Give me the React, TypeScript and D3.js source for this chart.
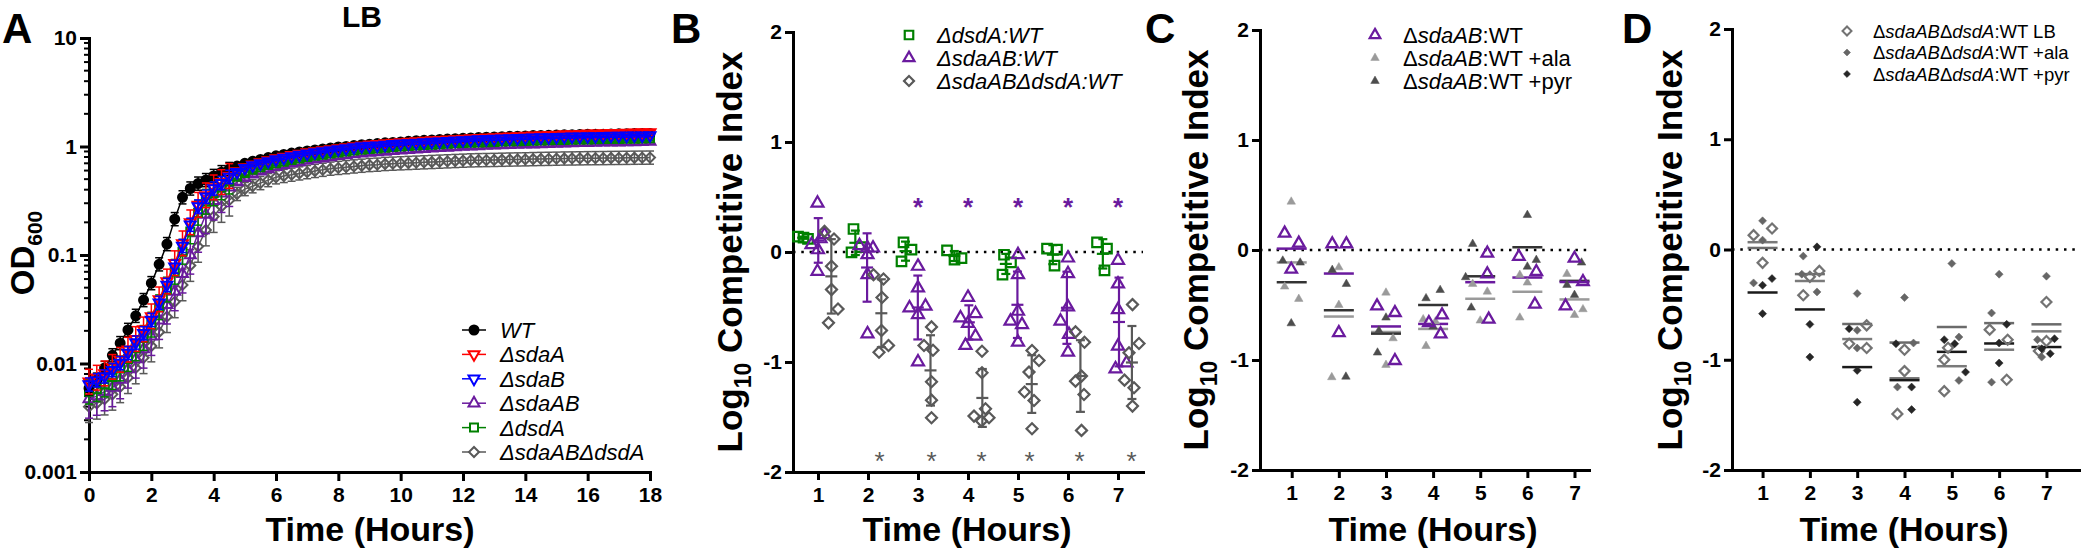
import React, { useRef, useEffect } from 'react';
import * as d3 from 'd3';

const FONT = '"Liberation Sans", Arial, Helvetica, sans-serif';
const PURPLE = '#6a1a9e';

// ---------- Panel A: growth in LB, OD600 read every 15 min ----------
const timeA = d3.range(0, 18.001, 0.25);
const yTicksA = [0.001, 0.01, 0.1, 1, 10];
const yTickLabelsA = ['0.001', '0.01', '0.1', '1', '10'];
const xTicksA = [0, 2, 4, 6, 8, 10, 12, 14, 16, 18];

const odWT = [0.0059, 0.0071, 0.0091, 0.0119, 0.0154, 0.0204, 0.0275, 0.0384, 0.055, 0.082, 0.126, 0.214, 0.34,
  0.41, 0.455, 0.49, 0.535, 0.58, 0.62, 0.66, 0.7, 0.73, 0.76, 0.79, 0.82,
  0.845, 0.87, 0.89, 0.91, 0.93, 0.95, 0.97, 0.99, 1.0, 1.02, 1.04, 1.05,
  1.065, 1.08, 1.09, 1.1, 1.115, 1.13, 1.14, 1.15, 1.16, 1.17, 1.18, 1.19,
  1.2, 1.21, 1.22, 1.225, 1.23, 1.24, 1.245, 1.25, 1.26, 1.265, 1.27, 1.275,
  1.28, 1.285, 1.29, 1.295, 1.3, 1.3, 1.305, 1.31, 1.31, 1.315, 1.32, 1.32];
const odSdaA = [0.0068, 0.0074, 0.0081, 0.0093, 0.0108, 0.0134, 0.0168, 0.0206, 0.0272, 0.039, 0.057, 0.084, 0.128,
  0.2, 0.29, 0.355, 0.42, 0.47, 0.535, 0.59, 0.64, 0.68, 0.715, 0.745, 0.775,
  0.8, 0.83, 0.855, 0.88, 0.9, 0.92, 0.94, 0.96, 0.98, 1.0, 1.02, 1.04,
  1.05, 1.065, 1.08, 1.09, 1.1, 1.115, 1.125, 1.135, 1.145, 1.155, 1.165, 1.175,
  1.185, 1.195, 1.205, 1.215, 1.225, 1.235, 1.24, 1.25, 1.26, 1.265, 1.27, 1.28,
  1.29, 1.295, 1.3, 1.31, 1.315, 1.32, 1.325, 1.33, 1.335, 1.34, 1.345, 1.35];
const odSdaB = [0.0064, 0.007, 0.0076, 0.0087, 0.0101, 0.0125, 0.0156, 0.019, 0.0252, 0.0363, 0.053, 0.078, 0.121,
  0.19, 0.28, 0.345, 0.41, 0.46, 0.525, 0.58, 0.63, 0.67, 0.7, 0.73, 0.76,
  0.785, 0.81, 0.835, 0.86, 0.88, 0.9, 0.92, 0.94, 0.96, 0.98, 1.0, 1.01,
  1.02, 1.035, 1.05, 1.06, 1.07, 1.08, 1.09, 1.1, 1.11, 1.12, 1.13, 1.14,
  1.15, 1.16, 1.17, 1.175, 1.18, 1.19, 1.195, 1.2, 1.205, 1.21, 1.215, 1.22,
  1.225, 1.23, 1.235, 1.24, 1.24, 1.245, 1.25, 1.25, 1.255, 1.26, 1.26, 1.265];
const odSdaAB = [0.0047, 0.005, 0.0055, 0.006, 0.0071, 0.0089, 0.011, 0.0136, 0.0178, 0.025, 0.0347, 0.046, 0.067,
  0.1, 0.159, 0.236, 0.315, 0.37, 0.42, 0.47, 0.515, 0.555, 0.59, 0.62, 0.65,
  0.675, 0.7, 0.72, 0.74, 0.76, 0.78, 0.8, 0.82, 0.835, 0.85, 0.865, 0.88,
  0.89, 0.9, 0.91, 0.92, 0.93, 0.94, 0.95, 0.96, 0.97, 0.98, 0.99, 1.0,
  1.005, 1.01, 1.02, 1.025, 1.03, 1.035, 1.04, 1.045, 1.05, 1.055, 1.06, 1.065,
  1.07, 1.075, 1.08, 1.08, 1.085, 1.09, 1.09, 1.095, 1.1, 1.1, 1.105, 1.11];
const odDsdA = [0.0055, 0.0058, 0.0064, 0.0075, 0.009, 0.011, 0.0138, 0.0172, 0.0228, 0.033, 0.048, 0.07, 0.107,
  0.165, 0.245, 0.31, 0.37, 0.42, 0.475, 0.525, 0.57, 0.61, 0.645, 0.675, 0.7,
  0.725, 0.75, 0.775, 0.8, 0.82, 0.84, 0.86, 0.88, 0.9, 0.92, 0.935, 0.95,
  0.96, 0.975, 0.99, 1.0, 1.01, 1.02, 1.03, 1.04, 1.05, 1.06, 1.07, 1.075,
  1.08, 1.09, 1.095, 1.1, 1.11, 1.115, 1.12, 1.125, 1.13, 1.135, 1.14, 1.145,
  1.15, 1.155, 1.16, 1.16, 1.165, 1.17, 1.17, 1.175, 1.18, 1.18, 1.185, 1.19];
const odSdaABdsdA = [0.004, 0.0043, 0.0047, 0.0052, 0.0061, 0.0074, 0.0091, 0.0113, 0.0145, 0.0195, 0.027, 0.037, 0.053,
  0.08, 0.12, 0.17, 0.226, 0.28, 0.32, 0.365, 0.405, 0.43, 0.46, 0.49, 0.52,
  0.535, 0.55, 0.565, 0.58, 0.595, 0.61, 0.625, 0.635, 0.645, 0.655, 0.665, 0.675,
  0.68, 0.69, 0.695, 0.7, 0.705, 0.71, 0.715, 0.72, 0.725, 0.73, 0.735, 0.74,
  0.745, 0.748, 0.75, 0.752, 0.755, 0.758, 0.76, 0.762, 0.765, 0.768, 0.77, 0.772,
  0.775, 0.776, 0.778, 0.78, 0.781, 0.782, 0.784, 0.785, 0.786, 0.788, 0.789, 0.79];
// error bars as multiplicative SD, during growth (<= 4.5 h) and afterwards
const sdEarlyA = [1.15, 1.3, 1.15, 1.5, 1.3, 1.4];
const sdLateA = [1.03, 1.04, 1.03, 1.05, 1.05, 1.15];
const namesA = ['WT', 'ΔsdaA', 'ΔsdaB', 'ΔsdaAB', 'ΔdsdA', 'ΔsdaABΔdsdA'];

// ---------- Panels B-D: competitive index, [time (h, jittered), log10 CI] ----------
const hours = [1, 2, 3, 4, 5, 6, 7];
const ciTicks = [-2, -1, 0, 1, 2];

const bDsdA = [
  [[0.6, 0.14], [0.71, 0.13], [0.8, 0.12]],
  [[1.71, 0.209], [1.67, -0.003], [1.86, 0.045]],
  [[2.71, 0.087], [2.87, 0.021], [2.67, -0.085]],
  [[3.58, 0.015], [3.73, -0.07], [3.87, -0.055]],
  [[4.72, -0.025], [4.86, -0.094], [4.69, -0.206]],
  [[5.58, 0.03], [5.78, 0.021], [5.73, -0.124]],
  [[6.58, 0.087], [6.78, 0.03], [6.73, -0.167]],
];
const bSdaAB = [
  [[0.99, 0.444], [0.87, 0.066], [1.13, 0.157], [1.0, 0.02], [0.99, -0.176], [1.05, 0.12]],
  [[1.83, 0.057], [1.99, 0.036], [2.1, 0.036], [1.99, -0.025], [1.99, -0.206], [1.99, -0.744]],
  [[3.0, -0.13], [3.0, -0.327], [2.83, -0.508], [3.15, -0.493], [3.0, -0.569], [3.0, -1.0]],
  [[4.0, -0.412], [3.85, -0.6], [4.15, -0.56], [4.0, -0.65], [4.15, -0.765], [3.95, -0.85]],
  [[5.0, -0.025], [5.0, -0.206], [5.0, -0.539], [4.85, -0.629], [5.08, -0.66], [5.0, -0.82]],
  [[6.0, -0.055], [6.0, -0.197], [6.0, -0.5], [5.85, -0.629], [6.02, -0.75], [6.0, -0.911]],
  [[7.0, -0.076], [7.0, -0.291], [7.0, -0.524], [7.0, -0.856], [6.95, -1.062], [7.17, -1.008]],
];
const bSdaABdsdA = [
  [[1.13, 0.187], [1.32, 0.118], [1.27, -0.13], [1.27, -0.342], [1.4, -0.518], [1.21, -0.644]],
  [[2.11, -0.207], [2.31, -0.245], [2.28, -0.414], [2.27, -0.714], [2.22, -0.911], [2.41, -0.85]],
  [[3.27, -0.681], [3.12, -0.85], [3.3, -0.893], [3.27, -1.18], [3.27, -1.347], [3.27, -1.507]],
  [[4.28, -0.902], [4.28, -1.098], [4.12, -1.492], [4.35, -1.425], [4.42, -1.507], [4.27, -1.537]],
  [[5.28, -0.896], [5.42, -0.986], [5.22, -1.092], [5.13, -1.273], [5.32, -1.35], [5.28, -1.607]],
  [[6.15, -0.726], [6.33, -0.82], [6.15, -1.174], [6.27, -1.128], [6.32, -1.295], [6.27, -1.622]],
  [[7.29, -0.478], [7.42, -0.832], [7.22, -0.917], [7.13, -1.165], [7.32, -1.234], [7.29, -1.401]],
];
// significance asterisks: [time, log10 CI]
const bStarsSdaAB = [[3, 0.47], [4, 0.47], [5, 0.47], [6, 0.47], [7, 0.47]];
const bStarsDouble = [[2.23, -1.84], [3.27, -1.84], [4.27, -1.84], [5.23, -1.84], [6.23, -1.84], [7.27, -1.84]];

const cLB = [
  [[0.85, 0.152], [1.15, 0.061], [0.99, -0.176]],
  [[1.86, 0.055], [2.16, 0.055], [2.0, -0.752]],
  [[2.81, -0.509], [3.19, -0.57], [3.19, -1.006]],
  [[3.91, -0.661], [4.19, -0.591], [4.16, -0.764]],
  [[5.15, -0.03], [5.15, -0.218], [5.18, -0.63]],
  [[5.82, -0.06], [6.19, -0.197], [6.16, -0.494]],
  [[7.0, -0.076], [7.18, -0.288], [6.81, -0.509]],
];
const cAla = [
  [[0.99, 0.439], [0.85, -0.333], [1.15, -0.445]],
  [[2.0, -0.158], [2.0, -0.5], [1.85, -1.157]],
  [[3.0, -0.388], [3.15, -0.803], [3.0, -1.045]],
  [[3.79, -0.63], [4.05, -0.65], [3.85, -0.873]],
  [[4.84, -0.309], [5.15, -0.379], [5.0, -0.642]],
  [[5.84, -0.227], [6.0, -0.297], [5.84, -0.615]],
  [[6.84, -0.218], [7.18, -0.539], [7.0, -0.591]],
];
const cPyr = [
  [[0.81, -0.097], [1.18, -0.115], [0.99, -0.667]],
  [[1.86, -0.182], [2.16, -0.309], [2.15, -1.152]],
  [[3.0, -0.615], [2.85, -0.733], [2.82, -0.933]],
  [[3.85, -0.439], [4.15, -0.364], [4.0, -0.697]],
  [[4.84, 0.055], [4.69, -0.248], [4.81, -0.524]],
  [[6.0, 0.318], [6.19, -0.091], [6.0, -0.152]],
  [[7.15, -0.115], [6.84, -0.318], [7.0, -0.409]],
];

const dLB = [
  [[0.81, 0.13], [1.2, 0.19], [1.0, -0.121]],
  [[2.2, -0.194], [2.0, -0.248], [1.86, -0.415]],
  [[3.2, -0.688], [2.83, -0.855], [3.2, -0.894]],
  [[4.0, -0.909], [4.0, -1.103], [3.85, -1.491]],
  [[4.84, -1.0], [4.92, -0.891], [4.84, -1.285]],
  [[5.8, -0.727], [6.18, -0.818], [6.16, -1.182]],
  [[7.0, -0.476], [7.0, -0.83], [6.84, -0.921]],
];
const dAla = [
  [[1.0, 0.26], [1.0, 0.085], [0.81, -0.303]],
  [[1.86, -0.06], [1.83, -0.224], [2.15, -0.385]],
  [[3.0, -0.4], [3.0, -0.733], [3.0, -0.894]],
  [[4.0, -0.436], [3.85, -1.248], [4.19, -0.848]],
  [[5.0, -0.127], [5.15, -0.794], [5.15, -1.188]],
  [[6.0, -0.224], [5.84, -0.576], [5.84, -1.203]],
  [[7.0, -0.242], [6.81, -0.818], [6.9, -0.976]],
];
const dPyr = [
  [[1.2, -0.264], [1.0, -0.324], [1.0, -0.582]],
  [[2.15, 0.024], [2.0, -0.679], [2.0, -0.976]],
  [[2.83, -0.718], [3.0, -1.097], [3.0, -1.385]],
  [[3.82, -0.855], [4.15, -1.248], [4.15, -1.452]],
  [[4.84, -0.818], [5.06, -0.855], [5.29, -1.112]],
  [[6.16, -0.679], [6.0, -0.848], [6.0, -1.03]],
  [[7.17, -0.809], [6.9, -0.9], [7.08, -0.945]],
];

const legendB = ['ΔdsdA:WT', 'ΔsdaAB:WT', 'ΔsdaABΔdsdA:WT'];
// [text, italic]
const legendC = [
  [['Δ', false], ['sdaAB', true], [':WT', false]],
  [['Δ', false], ['sdaAB', true], [':WT +ala', false]],
  [['Δ', false], ['sdaAB', true], [':WT +pyr', false]],
];
const legendD = [
  [['Δ', false], ['sdaAB', true], ['Δ', false], ['dsdA', true], [':WT LB', false]],
  [['Δ', false], ['sdaAB', true], ['Δ', false], ['dsdA', true], [':WT +ala', false]],
  [['Δ', false], ['sdaAB', true], ['Δ', false], ['dsdA', true], [':WT +pyr', false]],
];

const symbolPath = (kind: string, size: number) => {
  if (kind === 'circle') return d3.symbol(d3.symbolCircle, (Math.PI * size * size) / 4)();
  if (kind === 'square') return d3.symbol(d3.symbolSquare, size * size)();
  if (kind === 'diamond') return d3.symbol(d3.symbolSquare, (size * size) / 2)();
  return d3.symbol(d3.symbolTriangle, (size * size * Math.sqrt(3)) / 4)();
};

const marker = (g: any, kind: string, x: number, y: number, size: number, stroke: string, fill: string, sw: number) => {
  const rot = kind === 'diamond' ? 45 : kind === 'triDown' ? 180 : 0;
  g.append('path')
    .attr('d', symbolPath(kind, size))
    .attr('transform', `translate(${x},${y}) rotate(${rot})`)
    .attr('fill', fill)
    .attr('stroke', stroke)
    .attr('stroke-width', sw);
};

const styleAxis = (ax: any) => {
  ax.select('.domain').attr('stroke-width', 3).attr('stroke-linecap', 'square').attr('stroke', '#000');
  ax.selectAll('.tick line').attr('stroke-width', 3).attr('stroke', '#000');
  ax.selectAll('text')
    .attr('font-family', FONT)
    .attr('font-size', 21)
    .attr('font-weight', 'bold')
    .attr('fill', '#000');
};

const App = () => {
  const svgRef = useRef<SVGSVGElement>(null);

  useEffect(() => {
    const svg = d3.select(svgRef.current);
    svg.selectAll('*').remove();

    const letter = (x: number, t: string) =>
      svg.append('text').attr('x', x).attr('y', 43).attr('font-family', FONT)
        .attr('font-size', 42).attr('font-weight', 'bold').text(t);

    const xLabel = (cx: number) =>
      svg.append('text').attr('x', cx).attr('y', 541).attr('text-anchor', 'middle')
        .attr('font-family', FONT).attr('font-size', 34).attr('font-weight', 'bold')
        .text('Time (Hours)');

    const ciLabel = (bx: number, cy: number) => {
      const t = svg.append('text')
        .attr('transform', `translate(${bx},${cy}) rotate(-90)`)
        .attr('text-anchor', 'middle')
        .attr('font-family', FONT).attr('font-size', 35).attr('font-weight', 'bold');
      t.append('tspan').text('Log');
      t.append('tspan').attr('font-size', 23).attr('dy', 9).text('10');
      t.append('tspan').attr('dy', -9).text(' Competitive Index');
    };

    // ================= Panel A =================
    const xA = d3.scaleLinear().domain([0, 18]).range([89, 650]);
    const yA = d3.scaleLog().domain([0.001, 10]).range([472, 38]);
    const gA = svg.append('g');

    const minorA: number[] = [];
    yTicksA.slice(0, -1).forEach(d => { for (let k = 2; k <= 9; k++) minorA.push(d * k); });
    gA.selectAll('.minor').data(minorA).enter().append('line')
      .attr('x1', xA(0) - 5).attr('x2', xA(0))
      .attr('y1', d => yA(d)).attr('y2', d => yA(d))
      .attr('stroke', '#000').attr('stroke-width', 2);

    const yAxA = gA.append('g').attr('transform', `translate(${xA(0)},0)`)
      .call(d3.axisLeft(yA).tickValues(yTicksA).tickFormat((d, i) => yTickLabelsA[i]).tickSize(9).tickSizeOuter(0).tickPadding(3));
    styleAxis(yAxA);
    const xAxA = gA.append('g').attr('transform', `translate(0,${yA(0.001)})`)
      .call(d3.axisBottom(xA).tickValues(xTicksA).tickFormat(d => String(d)).tickSize(9).tickSizeOuter(0).tickPadding(6));
    styleAxis(xAxA);

    const seriesA = [
      { values: odWT, color: '#000000', shape: 'circle', fill: '#000000', size: 9 },
      { values: odSdaA, color: '#ff0000', shape: 'triDown', fill: 'none', size: 11 },
      { values: odSdaB, color: '#0000ff', shape: 'triDown', fill: 'none', size: 11 },
      { values: odSdaAB, color: PURPLE, shape: 'tri', fill: 'none', size: 11 },
      { values: odDsdA, color: '#008000', shape: 'square', fill: 'none', size: 8 },
      { values: odSdaABdsdA, color: '#595959', shape: 'diamond', fill: 'none', size: 10 },
    ];
    const drawOrder = [5, 3, 4, 0, 1, 2];
    drawOrder.forEach(si => {
      const s = seriesA[si];
      const gs = gA.append('g');
      timeA.forEach((t, i) => {
        const v = s.values[i];
        const f = t <= 4.5 ? sdEarlyA[si] : sdLateA[si];
        const x = xA(t);
        const lo = Math.max(yA(v / f), 0);
        gs.append('line').attr('x1', x).attr('x2', x).attr('y1', yA(v * f)).attr('y2', Math.min(lo, 472))
          .attr('stroke', s.color).attr('stroke-width', 1.5);
        [v * f, v / f].forEach(e => {
          if (e < 0.001) return;
          gs.append('line').attr('x1', x - 4).attr('x2', x + 4).attr('y1', yA(e)).attr('y2', yA(e))
            .attr('stroke', s.color).attr('stroke-width', 1.5);
        });
      });
      gs.append('path')
        .datum(s.values)
        .attr('d', d3.line<number>().x((d, i) => xA(timeA[i])).y(d => yA(d)))
        .attr('fill', 'none').attr('stroke', s.color).attr('stroke-width', 1.5);
      timeA.forEach((t, i) => marker(gs, s.shape, xA(t), yA(s.values[i]), s.size, s.color,
        s.fill === 'none' ? 'none' : s.fill, 2));
    });

    // legend A
    namesA.forEach((n, i) => {
      const s = seriesA[i];
      const yy = 330 + i * 24.4;
      gA.append('line').attr('x1', 462).attr('x2', 486).attr('y1', yy).attr('y2', yy)
        .attr('stroke', s.color).attr('stroke-width', 1.5);
      marker(gA, s.shape, 474, yy, s.size, s.color, s.fill === 'none' ? '#fff' : s.fill, 2);
      gA.append('text').attr('x', 500).attr('y', yy).attr('dy', '0.36em')
        .attr('font-family', FONT).attr('font-size', 22).attr('font-style', 'italic').text(n);
    });

    gA.append('text').attr('x', 362).attr('y', 27).attr('text-anchor', 'middle')
      .attr('font-family', FONT).attr('font-size', 30).attr('font-weight', 'bold').text('LB');
    const odT = gA.append('text').attr('transform', `translate(34,${yA(0.1) - 2}) rotate(-90)`)
      .attr('text-anchor', 'middle').attr('font-family', FONT).attr('font-size', 33).attr('font-weight', 'bold');
    odT.append('tspan').text('OD');
    odT.append('tspan').attr('font-size', 21).attr('dy', 8).text('600');
    xLabel(370);
    letter(2, 'A');

    // ================= Panels B-D frame =================
    const ciFrame = (x0: number, x1: number, dom: [number, number], yr: [number, number]) => {
      const x = d3.scaleLinear().domain(dom).range([x0, x1]);
      const y = d3.scaleLinear().domain([-2, 2]).range(yr);
      const g = svg.append('g');
      g.append('line').attr('x1', x0).attr('x2', x1).attr('y1', y(0)).attr('y2', y(0))
        .attr('stroke', '#000').attr('stroke-width', 2.5).attr('stroke-dasharray', '2.5,5.8');
      const ya = g.append('g').attr('transform', `translate(${x0},0)`)
        .call(d3.axisLeft(y).tickValues(ciTicks).tickFormat(d => String(d)).tickSize(8).tickSizeOuter(0).tickPadding(3));
      styleAxis(ya);
      const xa = g.append('g').attr('transform', `translate(0,${y(-2)})`)
        .call(d3.axisBottom(x).tickValues(hours).tickFormat(d => String(d)).tickSize(8).tickSizeOuter(0).tickPadding(7));
      styleAxis(xa);
      return { x, y, g };
    };

    // ================= Panel B =================
    {
      const { x, y, g } = ciFrame(793, 1143, [0.5, 7.5], [472, 32]);
      const sets = [
        { data: bDsdA, color: '#008000', shape: 'square', size: 9.5 },
        { data: bSdaAB, color: PURPLE, shape: 'tri', size: 12 },
        { data: bSdaABdsdA, color: '#595959', shape: 'diamond', size: 11 },
      ];
      sets.forEach(s => {
        s.data.forEach(grp => {
          const vals = grp.map(p => p[1]);
          const m = d3.mean(vals) as number;
          const sd = d3.deviation(vals) as number;
          const cx = x(d3.mean(grp.map(p => p[0])) as number);
          g.append('line').attr('x1', cx).attr('x2', cx).attr('y1', y(m + sd)).attr('y2', y(m - sd))
            .attr('stroke', s.color).attr('stroke-width', 2.2);
          [m + sd, m - sd].forEach(e => g.append('line').attr('x1', cx - 4.5).attr('x2', cx + 4.5)
            .attr('y1', y(e)).attr('y2', y(e)).attr('stroke', s.color).attr('stroke-width', 2.2));
          g.append('line').attr('x1', cx - 6).attr('x2', cx + 6).attr('y1', y(m)).attr('y2', y(m))
            .attr('stroke', s.color).attr('stroke-width', 2.2);
          grp.forEach(p => marker(g, s.shape, x(p[0]), y(p[1]), s.size, s.color, 'none', 2.2));
        });
      });
      bStarsSdaAB.forEach(p => g.append('text').attr('x', x(p[0])).attr('y', y(p[1])).attr('dy', '0.6em')
        .attr('text-anchor', 'middle').attr('font-family', FONT).attr('font-size', 26).attr('font-weight', 'bold')
        .attr('fill', PURPLE).text('*'));
      bStarsDouble.forEach(p => g.append('text').attr('x', x(p[0])).attr('y', y(p[1])).attr('dy', '0.6em')
        .attr('text-anchor', 'middle').attr('font-family', FONT).attr('font-size', 26)
        .attr('fill', '#595959').text('*'));
      legendB.forEach((t, i) => {
        const yy = 35 + i * 23;
        marker(g, sets[i].shape, 909, yy, sets[i].size - 1, sets[i].color, 'none', 2.2);
        g.append('text').attr('x', 937).attr('y', yy).attr('dy', '0.36em').attr('font-family', FONT)
          .attr('font-size', 22).attr('font-style', 'italic').text(t);
      });
      ciLabel(742, 252);
      xLabel(967);
      letter(671, 'B');
    }

    const meanLines = (g: any, x: any, y: any, data: number[][][], color: string) => {
      data.forEach((grp, i) => {
        const m = d3.mean(grp.map(p => p[1])) as number;
        const cx = x(hours[i]);
        g.append('line').attr('x1', cx - 15).attr('x2', cx + 15).attr('y1', y(m)).attr('y2', y(m))
          .attr('stroke', color).attr('stroke-width', 2.5);
      });
    };

    const richLegend = (g: any, items: any[], tx: number, y0: number, dy: number, fs: number) => {
      items.forEach((parts: any[], i: number) => {
        const t = g.append('text').attr('x', tx).attr('y', y0 + i * dy).attr('dy', '0.36em')
          .attr('font-family', FONT).attr('font-size', fs);
        parts.forEach((p: any) => t.append('tspan').attr('font-style', p[1] ? 'italic' : 'normal').text(p[0]));
      });
    };

    // ================= Panel C =================
    {
      const { x, y, g } = ciFrame(1260, 1589, [0.327, 7.308], [470, 30]);
      const sets = [
        { data: cLB, color: PURPLE, fill: 'none', size: 11.5, line: PURPLE },
        { data: cAla, color: '#9a9a9a', fill: '#9a9a9a', size: 8.5, line: '#9a9a9a' },
        { data: cPyr, color: '#4d4d4d', fill: '#4d4d4d', size: 8.5, line: '#333333' },
      ];
      [sets[1], sets[2], sets[0]].forEach(s => meanLines(g, x, y, s.data, s.line));
      [sets[1], sets[2], sets[0]].forEach(s => {
        s.data.forEach(grp => grp.forEach(p =>
          marker(g, 'tri', x(p[0]), y(p[1]), s.size, s.color, s.fill, s.fill === 'none' ? 2.3 : 0.5)));
      });
      sets.forEach((s, i) => marker(g, 'tri', 1375, 35 + i * 23, s.size - (i === 0 ? 1 : 0), s.color, s.fill, s.fill === 'none' ? 2.3 : 0.5));
      richLegend(g, legendC, 1403, 35, 23, 22);
      ciLabel(1208, 250);
      xLabel(1433);
      letter(1145, 'C');
    }

    // ================= Panel D =================
    {
      const { x, y, g } = ciFrame(1732, 2079, [0.354, 7.688], [470, 29]);
      const sets = [
        { data: dLB, color: '#737373', fill: 'none', size: 10, line: '#7a7a7a' },
        { data: dAla, color: '#666666', fill: '#666666', size: 8, line: '#6b6b6b' },
        { data: dPyr, color: '#262626', fill: '#262626', size: 8, line: '#1a1a1a' },
      ];
      sets.forEach(s => meanLines(g, x, y, s.data, s.line));
      sets.forEach(s => {
        s.data.forEach(grp => grp.forEach(p =>
          marker(g, 'diamond', x(p[0]), y(p[1]), s.size, s.color, s.fill, s.fill === 'none' ? 2.2 : 0.5)));
      });
      sets.forEach((s, i) => marker(g, 'diamond', 1847, 31 + i * 21.5, s.size - 1, s.color, s.fill, s.fill === 'none' ? 2 : 0.5));
      richLegend(g, legendD, 1873, 31, 21.5, 18.5);
      ciLabel(1682, 250);
      xLabel(1904);
      letter(1622, 'D');
    }
  }, []);

  return (
    <svg
      ref={svgRef}
      width={2085}
      height={555}
      style={{ position: 'absolute', left: 0, top: 0, background: '#fff', display: 'block' }}
    />
  );
};

export default App;
